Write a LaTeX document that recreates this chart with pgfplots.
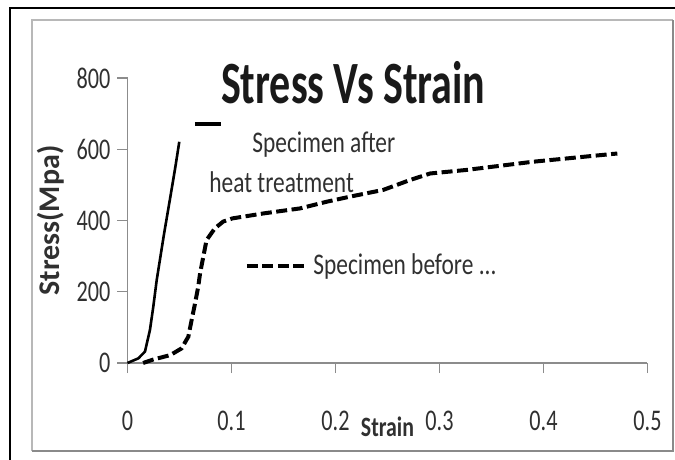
\documentclass[border=0pt]{standalone}
\usepackage{pgfplots}
\pgfplotsset{compat=1.18}
\usepackage{fontspec}
\setmainfont{Carlito}[FakeStretch=0.78]
\newfontfamily\ylabfont{Carlito}
\newfontfamily\titlefont{Carlito}[FakeStretch=0.7]
\newfontfamily\tickfont{Carlito}[FakeStretch=0.74]
\definecolor{axgray}{HTML}{8C8C8C}
\definecolor{txt}{HTML}{303030}
\definecolor{frlight}{HTML}{B8B8B8}
\definecolor{frdark}{HTML}{8A8A8A}

\pgfplotstableread{
x y
0 0
0.0104 13
0.0168 32
0.0216 93
0.0248 158
0.0281 233
0.035 360
0.042 480
0.046 550
0.0498 621
}\after

\pgfplotstableread{
x y
0.015 0
0.025 10
0.041 22
0.052 41
0.0585 74
0.0617 121
0.065 168
0.068 214
0.0698 252
0.076 345
0.084 378
0.092 397
0.101 406
0.131 420
0.166 434
0.192 453
0.214 467
0.246 486
0.272 514
0.291 532
0.326 542
0.390 565
0.467 587
0.471 588
}\before

\begin{document}
\begin{tikzpicture}
\path[use as bounding box] (0,0) rectangle (337.5pt,-230pt);
% outer black frame (left and top visible)
\draw[black, line width=1pt] (5pt,-230pt) -- (5pt,-4.15pt) -- (337.5pt,-4.15pt);
% inner grey frame
\draw[frlight, line width=1pt] (16pt,-225.35pt) -- (16pt,-10.25pt) -- (336.35pt,-10.25pt);
\draw[frdark, line width=1pt] (16pt,-225.35pt) -- (336.35pt,-225.35pt) -- (336.35pt,-10.25pt);
\begin{axis}[
  at={(63.75pt,-181.5pt)}, anchor=south west,
  scale only axis, width=260pt, height=142.5pt,
  xmin=0, xmax=0.5, ymin=0, ymax=800,
  axis x line=bottom, axis y line=left,
  axis line style={-, axgray, line width=0.7pt},
  xtick={0,0.1,0.2,0.3,0.4,0.5},
  xticklabels={0,0.1,0.2,0.3,0.4,0.5},
  ytick={0,200,400,600,800},
  tick align=outside, major tick length=5pt,
  tick style={axgray, line width=0.7pt},
  /pgf/number format/assume math mode=true,
  tick label style={font=\tickfont\fontsize{15}{17}\selectfont, text=txt},
  xticklabel style={yshift=-15.5pt},
  clip=false,
  xlabel={Strain},
  ylabel={Stress(Mpa)},
  xlabel style={at={(axis description cs:0.5,-0.2246)}, anchor=center, font=\bfseries\fontsize{14}{16}\selectfont, text=txt},
  ylabel style={at={(axis description cs:-0.148,0.5)}, anchor=center, font=\ylabfont\bfseries\fontsize{15}{18}\selectfont, text=txt},
]
\addplot[black, line width=1.3pt, line join=round] table[x=x,y=y] {\after};
\addplot[black, line width=2pt, dash pattern=on 5.5pt off 2.25pt] table[x=x,y=y] {\before};

\node[anchor=center, font=\titlefont\bfseries\fontsize{30}{33}\selectfont, text=black!90] at (axis description cs:0.434,0.985) {Stress Vs Strain};

% legend
\draw[black, line width=2pt] (axis description cs:0.1298,0.840) -- (axis description cs:0.1798,0.840);
\node[anchor=base west, inner sep=0pt, font=\fontsize{15}{17}\selectfont, text=txt] at (axis description cs:0.2394,0.740) {Specimen after};
\node[anchor=base west, inner sep=0pt, font=\fontsize{15}{17}\selectfont, text=txt] at (axis description cs:0.1567,0.600) {heat treatment};
\draw[black, line width=2pt, dash pattern=on 5.5pt off 2.25pt] (axis description cs:0.2298,0.340) -- (axis description cs:0.3471,0.340);
\node[anchor=base west, inner sep=0pt, font=\fontsize{15}{17}\selectfont, text=txt] at (axis description cs:0.3567,0.309) {Specimen before ...};
\end{axis}
\end{tikzpicture}
\end{document}
